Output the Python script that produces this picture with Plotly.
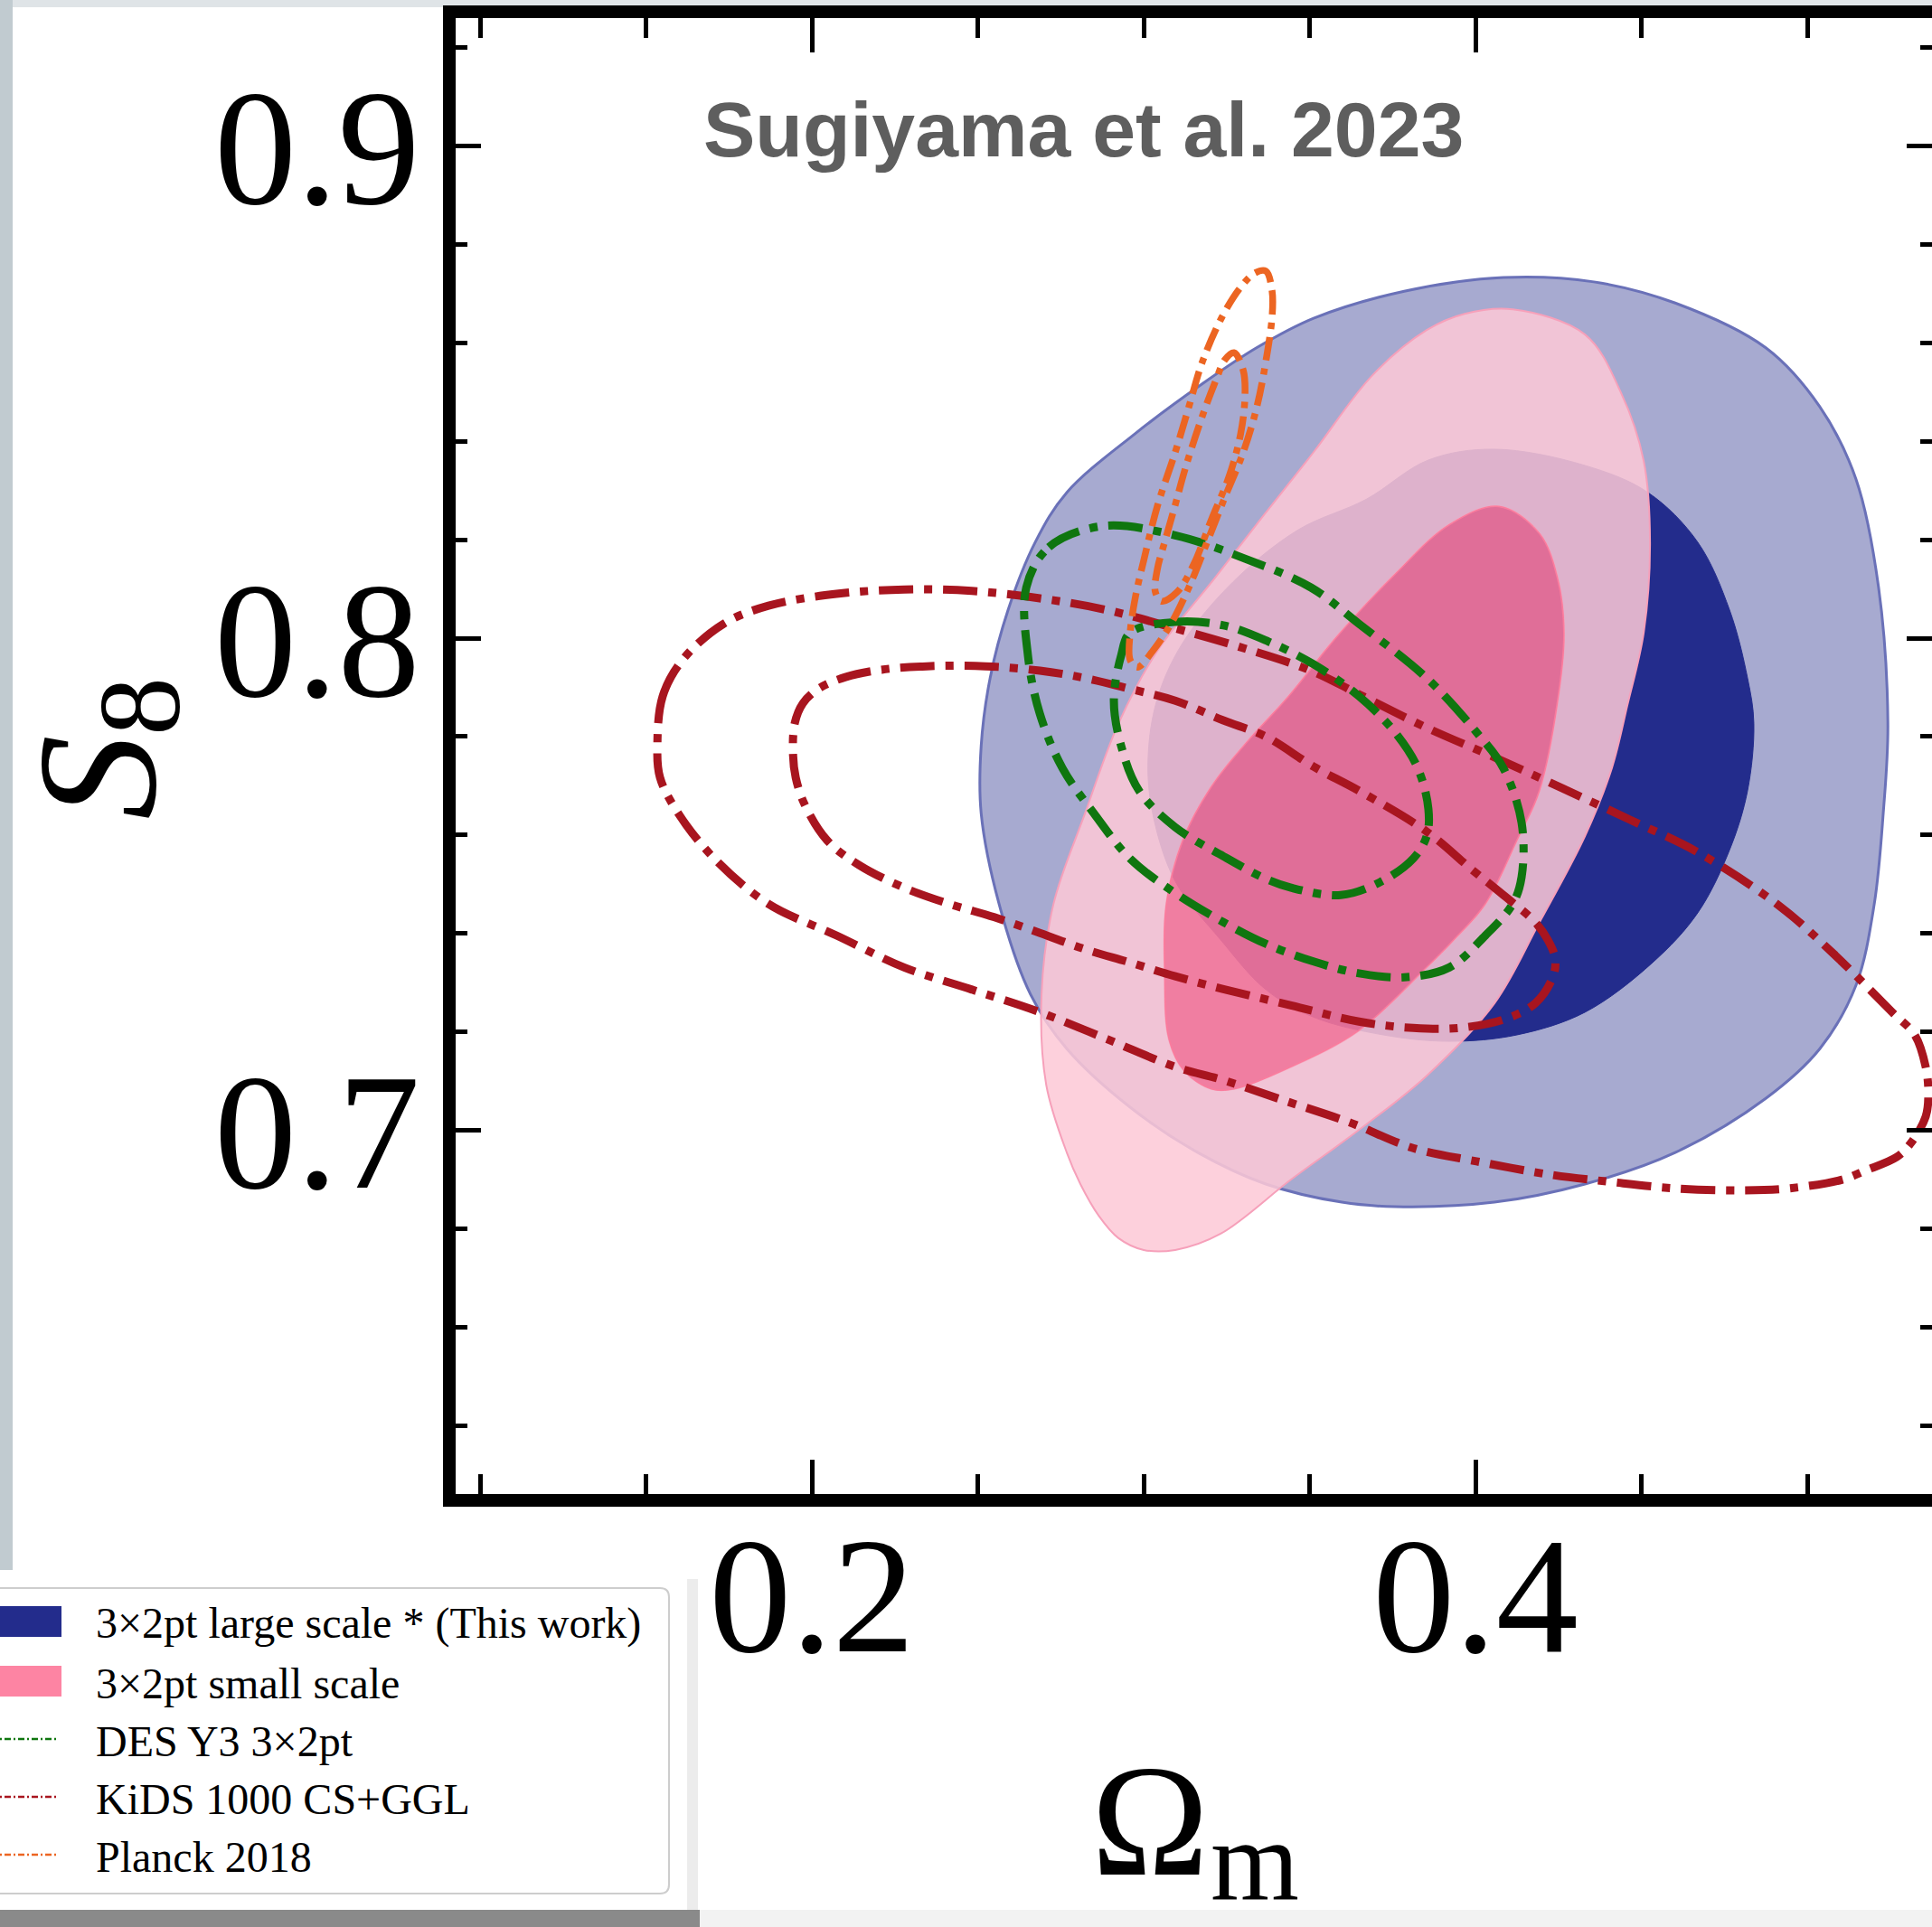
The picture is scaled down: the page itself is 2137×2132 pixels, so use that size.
import plotly.graph_objects as go

# ---------------- axis ticks ----------------
x_major = [0.2, 0.4]
x_major_text = ["0.2", "0.4"]
x_minor = [0.1, 0.15, 0.25, 0.3, 0.35, 0.45, 0.5]
y_major = [0.7, 0.8, 0.9]
y_major_text = ["0.7", "0.8", "0.9"]
y_minor = [0.64, 0.66, 0.68, 0.72, 0.74, 0.76, 0.78, 0.82, 0.84, 0.86, 0.88, 0.92]
x_range = [0.0926, 0.5376]
y_range = [0.6261, 0.9260]

# ---------------- contour outlines (Omega_m, S8) ----------------
# 3x2pt large scale, 2 sigma
large2_om = [0.4084, 0.3785, 0.3512, 0.3340, 0.3177, 0.2973, 0.2768, 0.2673, 0.2591, 0.2537,
             0.2510, 0.2510, 0.2564, 0.2659, 0.2768, 0.2959, 0.3163, 0.3368, 0.3597, 0.3757,
             0.4057, 0.4330, 0.4602, 0.4875, 0.5038, 0.5147, 0.5202, 0.5229, 0.5243, 0.5215,
             0.5147, 0.5038, 0.4875, 0.4602, 0.4357]
large2_s8 = [0.8733, 0.8705, 0.8650, 0.8590, 0.8517, 0.8415, 0.8296, 0.8195, 0.8057, 0.7919,
             0.7781, 0.7644, 0.7460, 0.7276, 0.7166, 0.7047, 0.6955, 0.6891, 0.6854, 0.6845,
             0.6854, 0.6891, 0.6955, 0.7065, 0.7166, 0.7295, 0.7460, 0.7644, 0.7827, 0.8103,
             0.8323, 0.8470, 0.8590, 0.8681, 0.8724]

# 3x2pt large scale, 1 sigma
large1_om = [0.4057, 0.4330, 0.4520, 0.4670, 0.4766, 0.4820, 0.4839, 0.4820, 0.4766, 0.4670,
             0.4534, 0.4330, 0.4125, 0.3921, 0.3722, 0.3512, 0.3368, 0.3232, 0.3095, 0.3027,
             0.3013, 0.3040, 0.3117, 0.3270, 0.3465, 0.3670, 0.3858]
large1_s8 = [0.8384, 0.8351, 0.8296, 0.8195, 0.8057, 0.7919, 0.7827, 0.7690, 0.7570, 0.7442,
             0.7341, 0.7240, 0.7194, 0.7181, 0.7194, 0.7230, 0.7286, 0.7387, 0.7506, 0.7644,
             0.7754, 0.7875, 0.7990, 0.8115, 0.8220, 0.8282, 0.8362]

# 3x2pt small scale, 2 sigma
small2_om = [0.4112, 0.4330, 0.4439, 0.4507, 0.4526, 0.4507, 0.4458, 0.4411, 0.4330, 0.4193,
             0.4057, 0.3853, 0.3649, 0.3444, 0.3232, 0.3095, 0.3000, 0.2924, 0.2864, 0.2809,
             0.2768, 0.2706, 0.2692, 0.2728, 0.2823, 0.2924, 0.3041, 0.3213, 0.3362, 0.3512,
             0.3689, 0.3853, 0.3967]
small2_s8 = [0.8668, 0.8617, 0.8498, 0.8360, 0.8195, 0.8011, 0.7864, 0.7736, 0.7598, 0.7423,
             0.7258, 0.7111, 0.7001, 0.6900, 0.6790, 0.6757, 0.6757, 0.6781, 0.6827, 0.6891,
             0.6955, 0.7093, 0.7276, 0.7460, 0.7644, 0.7827, 0.7974, 0.8121, 0.8250, 0.8378,
             0.8534, 0.8626, 0.8659]

# 3x2pt small scale, 1 sigma
small1_om = [0.4071, 0.4193, 0.4248, 0.4267, 0.4248, 0.4193, 0.4125, 0.4030, 0.3935, 0.3853,
             0.3649, 0.3444, 0.3272, 0.3204, 0.3123, 0.3076, 0.3063, 0.3068, 0.3117, 0.3204,
             0.3313, 0.3436, 0.3580, 0.3757, 0.3921]
small1_s8 = [0.8268, 0.8213, 0.8121, 0.8011, 0.7873, 0.7690, 0.7589, 0.7460, 0.7387, 0.7331,
             0.7203, 0.7129, 0.7084, 0.7084, 0.7120, 0.7185, 0.7322, 0.7460, 0.7589, 0.7699,
             0.7791, 0.7882, 0.8002, 0.8130, 0.8231]

# DES Y3 3x2pt
des2_om = [0.2646, 0.2714, 0.2877, 0.3095, 0.3300, 0.3504, 0.3649, 0.3853, 0.4003, 0.4084,
           0.4139, 0.4139, 0.4112, 0.4030, 0.3921, 0.3785, 0.3649, 0.3512, 0.3368, 0.3240,
           0.3095, 0.2959, 0.2850, 0.2755, 0.2687, 0.2651]
des2_s8 = [0.8103, 0.8185, 0.8228, 0.8209, 0.8163, 0.8103, 0.8029, 0.7919, 0.7809, 0.7736,
           0.7625, 0.7515, 0.7460, 0.7396, 0.7331, 0.7311, 0.7319, 0.7343, 0.7379, 0.7423,
           0.7482, 0.7552, 0.7644, 0.7736, 0.7846, 0.7965]
des1_om = [0.2959, 0.3095, 0.3240, 0.3376, 0.3512, 0.3649, 0.3757, 0.3826, 0.3858, 0.3853,
           0.3812, 0.3717, 0.3594, 0.3444, 0.3368, 0.3240, 0.3095, 0.2986, 0.2932, 0.2910,
           0.2932]
des1_s8 = [0.8011, 0.8033, 0.8026, 0.7993, 0.7947, 0.7882, 0.7809, 0.7736, 0.7653, 0.7598,
           0.7552, 0.7506, 0.7478, 0.7493, 0.7511, 0.7557, 0.7616, 0.7690, 0.7781, 0.7873,
           0.7965]

# KiDS 1000 CS+GGL
kids2_om = [0.1534, 0.1550, 0.1610, 0.1733, 0.1869, 0.2074, 0.2278, 0.2482, 0.2687, 0.2891,
            0.3095, 0.3300, 0.3504, 0.3649, 0.3853, 0.4057, 0.4262, 0.4466, 0.4670, 0.4916,
            0.5079, 0.5256, 0.5324, 0.5357, 0.5365, 0.5357, 0.5311, 0.5270, 0.5174, 0.5106,
            0.4943, 0.4807, 0.4602, 0.4398, 0.4234, 0.4003, 0.3812, 0.3621, 0.3417, 0.3240,
            0.3095, 0.2891, 0.2687, 0.2482, 0.2278, 0.2074, 0.1869, 0.1706, 0.1597, 0.1542]
kids2_s8 = [0.7781, 0.7882, 0.7956, 0.8029, 0.8066, 0.8090, 0.8099, 0.8096, 0.8081, 0.8057,
            0.8020, 0.7980, 0.7934, 0.7886, 0.7818, 0.7758, 0.7695, 0.7631, 0.7565, 0.7456,
            0.7359, 0.7240, 0.7194, 0.7129, 0.7074, 0.7028, 0.6973, 0.6946, 0.6918, 0.6900,
            0.6882, 0.6878, 0.6882, 0.6896, 0.6909, 0.6937, 0.6964, 0.7016, 0.7062, 0.7102,
            0.7129, 0.7185, 0.7240, 0.7286, 0.7331, 0.7396, 0.7460, 0.7552, 0.7644, 0.7717]
kids1_om = [0.1943, 0.1948, 0.1973, 0.2019, 0.2101, 0.2210, 0.2346, 0.2523, 0.2687, 0.2823,
            0.2959, 0.3095, 0.3240, 0.3368, 0.3512, 0.3649, 0.3853, 0.3989, 0.4084, 0.4180,
            0.4218, 0.4240, 0.4234, 0.4180, 0.4084, 0.3948, 0.3812, 0.3649, 0.3444, 0.3240,
            0.3095, 0.2959, 0.2823, 0.2687, 0.2550, 0.2414, 0.2278, 0.2142, 0.2046, 0.1978,
            0.1951]
kids1_s8 = [0.7763, 0.7827, 0.7868, 0.7897, 0.7921, 0.7936, 0.7943, 0.7943, 0.7934, 0.7919,
            0.7897, 0.7873, 0.7833, 0.7800, 0.7739, 0.7690, 0.7607, 0.7530, 0.7478, 0.7423,
            0.7387, 0.7350, 0.7313, 0.7258, 0.7225, 0.7208, 0.7208, 0.7221, 0.7254, 0.7287,
            0.7313, 0.7341, 0.7368, 0.7401, 0.7433, 0.7460, 0.7493, 0.7539, 0.7589, 0.7662,
            0.7717]

# Planck 2018
planck2_om = [0.3368, 0.3387, 0.3387, 0.3368, 0.3341, 0.3300, 0.3245, 0.3191, 0.3136, 0.3082,
              0.3027, 0.2981, 0.2959, 0.2959, 0.2975, 0.3000, 0.3041, 0.3095, 0.3136, 0.3177,
              0.3237, 0.3292, 0.3335]
planck2_s8 = [0.8746, 0.8705, 0.8654, 0.8562, 0.8470, 0.8378, 0.8287, 0.8195, 0.8103, 0.8029,
              0.7974, 0.7941, 0.7956, 0.8011, 0.8084, 0.8158, 0.8268, 0.8378, 0.8470, 0.8562,
              0.8654, 0.8713, 0.8742]
planck1_om = [0.3272, 0.3300, 0.3305, 0.3292, 0.3259, 0.3204, 0.3150, 0.3101, 0.3054, 0.3035,
              0.3041, 0.3063, 0.3090, 0.3128, 0.3177, 0.3218, 0.3245]
planck1_s8 = [0.8580, 0.8544, 0.8489, 0.8415, 0.8332, 0.8241, 0.8149, 0.8094, 0.8075, 0.8094,
              0.8140, 0.8195, 0.8259, 0.8351, 0.8452, 0.8525, 0.8566]

legend_labels = ["3×2pt large scale * (This work)", "3×2pt small scale",
                 "DES Y3 3×2pt", "KiDS 1000 CS+GGL", "Planck 2018"]

# ---------------- styling ----------------
NAVY = "#232c8c"
LIGHT_BLUE = "#a7aad0"
BLUE_EDGE = "#6a71b8"
PINK2 = "rgba(253,200,214,0.86)"
PINK1 = "rgba(250,120,154,0.88)"
PINK_EDGE = "rgba(246,160,186,1)"
PINK_LEGEND = "#fd84a3"
GREEN = "#0f760f"
RED = "#a8151f"
ORANGE = "#ec6522"
SERIF = "Liberation Serif"

W, H = 2137, 2132
M_L, M_R, M_T, M_B = 504, 0, 20, 479
PW, PH = W - M_L - M_R, H - M_T - M_B


def px(xp):
    return (xp - M_L) / PW


def py(yp):
    return (H - M_B - yp) / PH


def closed(xs, ys):
    return list(xs) + [xs[0]], list(ys) + [ys[0]]


fig = go.Figure()

# filled credible regions
x, y = closed(large2_om, large2_s8)
fig.add_trace(go.Scatter(x=x, y=y, mode="lines", fill="toself", fillcolor=LIGHT_BLUE,
                         line=dict(color=BLUE_EDGE, width=3, shape="spline"),
                         name=legend_labels[0], hoverinfo="skip"))
x, y = closed(large1_om, large1_s8)
fig.add_trace(go.Scatter(x=x, y=y, mode="lines", fill="toself", fillcolor=NAVY,
                         line=dict(color=NAVY, width=1, shape="spline"),
                         name=legend_labels[0], hoverinfo="skip"))

# small-scale 2 sigma band with the 1 sigma region cut out
xo, yo = closed(small2_om, small2_s8)
xi, yi = closed(small1_om[::-1], small1_s8[::-1])
fig.add_trace(go.Scatter(x=xo + [None] + xi, y=yo + [None] + yi, mode="lines",
                         fill="toself", fillcolor=PINK2,
                         line=dict(color=PINK_EDGE, width=2, shape="spline"),
                         name=legend_labels[1], hoverinfo="skip"))
x, y = closed(small1_om, small1_s8)
fig.add_trace(go.Scatter(x=x, y=y, mode="lines", fill="toself", fillcolor=PINK1,
                         line=dict(color=PINK1, width=1, shape="spline"),
                         name=legend_labels[1], hoverinfo="skip"))

# external constraints as dash-dot outlines
DASHDOT = "38px,12px,9px,12px"
PLANCK_DASH = "26px,9px,7px,9px"
for om, s8, col, wid, dash, lab in [
    (kids2_om, kids2_s8, RED, 9, DASHDOT, legend_labels[3]),
    (kids1_om, kids1_s8, RED, 9, DASHDOT, legend_labels[3]),
    (des2_om, des2_s8, GREEN, 9, DASHDOT, legend_labels[2]),
    (des1_om, des1_s8, GREEN, 9, DASHDOT, legend_labels[2]),
    (planck2_om, planck2_s8, ORANGE, 7.5, PLANCK_DASH, legend_labels[4]),
    (planck1_om, planck1_s8, ORANGE, 7.5, PLANCK_DASH, legend_labels[4]),
]:
    x, y = closed(om, s8)
    fig.add_trace(go.Scatter(x=x, y=y, mode="lines",
                             line=dict(color=col, width=wid, dash=dash, shape="spline"),
                             name=lab, hoverinfo="skip"))

tickfont = dict(family=SERIF, size=182, color="black")
fig.update_xaxes(range=x_range, tickmode="array", tickvals=x_major, ticktext=x_major_text,
                 ticks="inside", ticklen=38, tickwidth=5, tickcolor="black",
                 showline=True, linewidth=14, linecolor="black", mirror="ticks",
                 showgrid=False, zeroline=False, tickfont=tickfont, ticklabelstandoff=-58,
                 minor=dict(tickmode="array", tickvals=x_minor, ticks="inside", ticklen=22,
                            tickwidth=5, tickcolor="black", showgrid=False))
fig.update_yaxes(range=y_range, tickmode="array", tickvals=y_major, ticktext=y_major_text,
                 ticks="inside", ticklen=28, tickwidth=5, tickcolor="black",
                 showline=True, linewidth=14, linecolor="black", mirror="ticks",
                 showgrid=False, zeroline=False, tickfont=tickfont, ticklabelstandoff=-11,
                 minor=dict(tickmode="array", tickvals=y_minor, ticks="inside", ticklen=13,
                            tickwidth=5, tickcolor="black", showgrid=False))

shapes = []
annotations = []

# page frame: blurred edges of the surrounding slide
shapes.append(dict(type="rect", xref="paper", yref="paper", x0=px(-5), x1=px(W + 5),
                   y0=py(-5), y1=py(8), fillcolor="#dfe4e7", line=dict(width=0), layer="below"))
shapes.append(dict(type="rect", xref="paper", yref="paper", x0=px(-5), x1=px(14),
                   y0=py(-5), y1=py(1740), fillcolor="#c1cbd0", line=dict(width=0), layer="below"))

# legend card with a soft drop shadow
shapes.append(dict(type="rect", xref="paper", yref="paper", x0=px(-20), x1=px(W + 5),
                   y0=py(H + 5), y1=py(2113), fillcolor="#f2f2f2", line=dict(width=0)))
shapes.append(dict(type="rect", xref="paper", yref="paper", x0=px(-20), x1=px(774),
                   y0=py(H + 5), y1=py(2113), fillcolor="#8a8a8a", line=dict(width=0)))
shapes.append(dict(type="rect", xref="paper", yref="paper", x0=px(760), x1=px(772),
                   y0=py(2113), y1=py(1747), fillcolor="#ececec", line=dict(width=0)))
shapes.append(dict(type="rect", xref="paper", yref="paper", x0=px(-20), x1=px(760),
                   y0=py(2113), y1=py(1737), fillcolor="white", line=dict(width=0)))

# rounded legend frame (left side runs off the page)
r = 10
lx0, lx1, ly0, ly1 = -30, 740, 1757, 2095
path = (f"M {px(lx0)},{py(ly0)} L {px(lx1 - r)},{py(ly0)} "
        f"Q {px(lx1)},{py(ly0)} {px(lx1)},{py(ly0 + r)} "
        f"L {px(lx1)},{py(ly1 - r)} Q {px(lx1)},{py(ly1)} {px(lx1 - r)},{py(ly1)} "
        f"L {px(lx0)},{py(ly1)} Z")
shapes.append(dict(type="path", xref="paper", yref="paper", path=path,
                   fillcolor="white", line=dict(color="#cdcdcd", width=2)))

row_y = [1794, 1860, 1924, 1988, 2052]
swatches = [("rect", NAVY), ("rect", PINK_LEGEND), ("line", GREEN), ("line", RED), ("line", ORANGE)]
for lab, yc, (kind, col) in zip(legend_labels, row_y, swatches):
    if kind == "rect":
        shapes.append(dict(type="rect", xref="paper", yref="paper", x0=px(-10), x1=px(68),
                           y0=py(yc + 17), y1=py(yc - 17), fillcolor=col, line=dict(width=0)))
    else:
        shapes.append(dict(type="line", xref="paper", yref="paper", x0=px(-10), x1=px(64),
                           y0=py(yc), y1=py(yc),
                           line=dict(color=col, width=2.5, dash="7px,3px,2px,3px")))
    annotations.append(dict(text=lab, xref="paper", yref="paper", x=px(104), y=py(yc + 2),
                            xanchor="left", yanchor="middle", showarrow=False,
                            font=dict(family=SERIF, size=48, color="black")))

# axis titles: symbol and subscript set separately for a tight subscript offset
annotations.append(dict(text="Ω", xref="paper", yref="paper", x=px(1272), y=py(1916),
                        xanchor="center", yanchor="top", showarrow=False,
                        font=dict(family=SERIF, size=175, color="black")))
annotations.append(dict(text="m", xref="paper", yref="paper", x=px(1388), y=py(2130),
                        xanchor="center", yanchor="bottom", showarrow=False,
                        font=dict(family=SERIF, size=126, color="black")))
annotations.append(dict(text="<i>S</i>", xref="paper", yref="paper", x=px(108), y=py(860),
                        xanchor="center", yanchor="middle", textangle=-90, showarrow=False,
                        font=dict(family=SERIF, size=188, color="black")))
annotations.append(dict(text="8", xref="paper", yref="paper", x=px(154), y=py(782),
                        xanchor="center", yanchor="middle", textangle=-90, showarrow=False,
                        font=dict(family=SERIF, size=130, color="black")))

# figure heading
annotations.append(dict(text="Sugiyama et al. 2023", xref="paper", yref="paper", x=px(1198),
                        y=py(93), xanchor="center", yanchor="top", showarrow=False,
                        font=dict(family="Liberation Sans", size=86, color="#5e5e5e",
                                  weight="bold")))

fig.update_layout(width=W, height=H,
                  margin=dict(l=M_L, r=M_R, t=M_T, b=M_B, pad=0, autoexpand=False),
                  paper_bgcolor="white", plot_bgcolor="white", showlegend=False,
                  shapes=shapes, annotations=annotations)

fig.write_html("out.html")
